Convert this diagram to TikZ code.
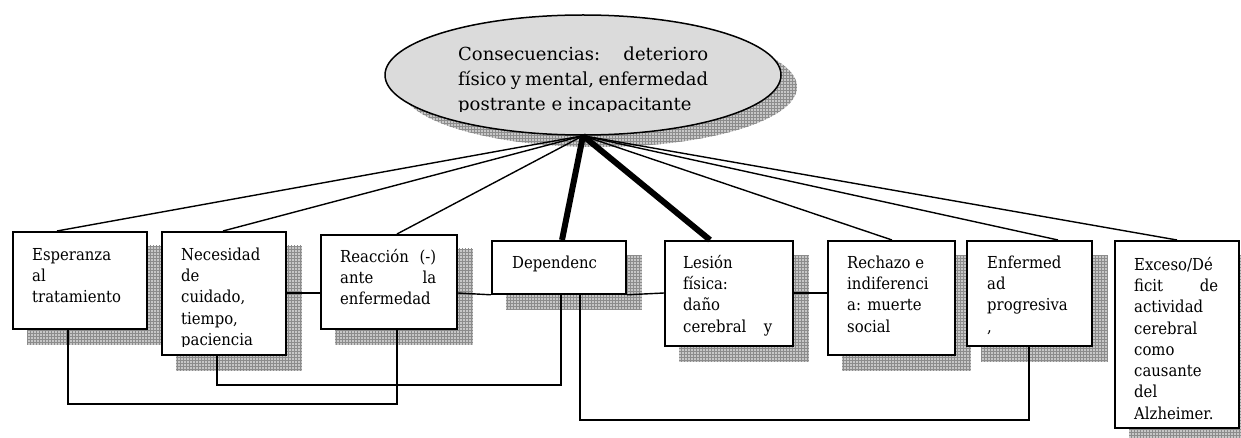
\documentclass[tikz,border=0pt]{standalone}
\usepackage{fontspec}
\setmainfont{DejaVu Serif}
\newfontfamily\narrowserif{DejaVu Serif}[FakeStretch=0.9]
\usetikzlibrary{shapes.geometric,patterns,backgrounds}

\begin{document}
\begin{tikzpicture}[x=1pt,y=-1pt,
  box/.style={draw, line width=1.8pt, fill=white, inner sep=0pt, anchor=north west},
  hatch/.style={preaction={fill=black!22}, pattern=grid, pattern color=black!45},
  txt/.style={anchor=north west, inner sep=0pt, align=left,
              font=\narrowserif\fontsize{16.5}{21.3}\selectfont},
  etxt/.style={anchor=north west, inner sep=0pt, align=left,
              font=\fontsize{18}{25}\selectfont},
  link/.style={line width=1.4pt},
  heavy/.style={line width=6pt},
]
\useasboundingbox (0,0) rectangle (1241,438);

% central ellipse
\node[ellipse, draw, line width=1.5pt, fill=black!14, minimum width=396pt,
      minimum height=120pt, inner sep=0pt] (ell) at (583,75) {};
\begin{scope}
  \clip (440,20) rectangle (740,112);
  \node[etxt] (et) at (458,42.5) {\strut\makebox[250pt][s]{Consecuencias: deterioro}\\
    \makebox[250pt][s]{físico y mental, enfermedad}\\
    postrante e incapacitante};
\end{scope}

% boxes
\node[box, minimum width=134pt, minimum height=97pt]  (b1) at (12,231) {};
\node[box, minimum width=124pt, minimum height=123pt] (b2) at (161,231) {};
\node[box, minimum width=136pt, minimum height=94pt]  (b3) at (320,234) {};
\node[box, minimum width=134pt, minimum height=53pt]  (b4) at (491,240) {};
\node[box, minimum width=128pt, minimum height=105pt] (b5) at (664,240) {};
\node[box, minimum width=127pt, minimum height=114pt] (b6) at (827,240) {};
\node[box, minimum width=125pt, minimum height=105pt] (b7) at (966,240) {};
\node[box, minimum width=124pt, minimum height=187pt] (b8) at (1114,240) {};

% box texts
\node[txt] (t1) at ([xshift=20pt,yshift=-14pt]b1.north west)
  {\strut Esperanza\\al\\tratamiento};
\begin{scope}
  \clip (165,235) rectangle (280,346);
  \node[txt] (t2) at ([xshift=20pt,yshift=-14pt]b2.north west)
    {\strut Necesidad\\de\\cuidado,\\tiempo,\\paciencia};
\end{scope}
\node[txt] (t3) at ([xshift=20pt,yshift=-13pt]b3.north west)
  {\strut\makebox[96pt][s]{Reacción (-)}\\\makebox[96pt][s]{ante la}\\enfermedad};
\node[txt] (t4) at ([xshift=21pt,yshift=-13pt]b4.north west)
  {\strut Dependenc};
\node[txt] (t5) at ([xshift=19pt,yshift=-13pt]b5.north west)
  {\strut Lesión\\física:\\daño\\\makebox[89pt][s]{cerebral y}};
\node[txt] (t6) at ([xshift=20pt,yshift=-13pt]b6.north west)
  {\strut Rechazo e\\indiferenci\\a: muerte\\social};
\node[txt] (t7) at ([xshift=21pt,yshift=-13pt]b7.north west)
  {\strut Enfermed\\ad\\progresiva\\,};
\node[txt] (t8) at ([xshift=20pt,yshift=-15pt]b8.north west)
  {\strut Exceso/Dé\\\makebox[84pt][s]{ficit de}\\actividad\\cerebral\\como\\causante\\del\\Alzheimer.};

% hatched shadows
\begin{scope}[on background layer]
  \path[hatch] ([xshift=16pt,yshift=-12pt]ell.center) ellipse [x radius=198pt, y radius=60pt];
  \foreach \b in {b1,b2,b3,b4,b5,b6,b7,b8}
    \path[hatch] ([xshift=15pt,yshift=-15pt]\b.north west) rectangle ([xshift=15pt,yshift=-15pt]\b.south east);
\end{scope}

% connectors from the ellipse
\draw[link]  (ell.south) -- ([xshift=45pt]b1.north west);
\draw[link]  (ell.south) -- ([xshift=62pt]b2.north west);
\draw[link]  (ell.south) -- ([xshift=77pt]b3.north west);
\draw[heavy] (ell.south) -- ([xshift=71pt]b4.north west);
\draw[heavy] (ell.south) -- ([xshift=46pt]b5.north west);
\draw[link]  (ell.south) -- ([xshift=65pt]b6.north west);
\draw[link]  (ell.south) -- ([xshift=92pt]b7.north west);
\draw[link]  (ell.south) -- ([xshift=63pt]b8.north west);

% horizontal chain
\coordinate (row) at (0,293);
\draw[link] (b2.east |- row) -- (b3.west |- row);
\draw[link] (b3.east |- row) -- (b4.south west);
\draw[link] (b4.south east) -- (b5.west |- row);
\draw[link] (b5.east |- row) -- (b6.west |- row);

% lower links
\draw[link] ([xshift=56pt]b1.south west) -- ++(0,74)  -| ([xshift=77pt]b3.south west);
\draw[link] ([xshift=56pt]b2.south west) -- ++(0,29)  -| ([xshift=70pt]b4.south west);
\draw[link] ([xshift=89pt]b4.south west) -- ++(0,125) -| ([xshift=63pt]b7.south west);
\end{tikzpicture}
\end{document}
